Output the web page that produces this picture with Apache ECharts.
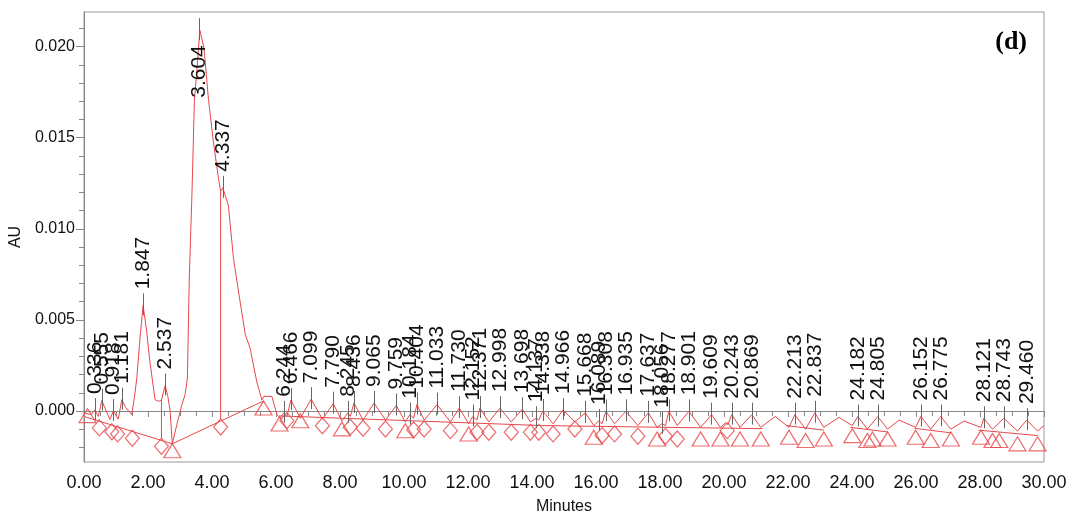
<!DOCTYPE html>
<html><head><meta charset="utf-8">
<script src="https://cdn.jsdelivr.net/npm/echarts@6/dist/echarts.min.js"></script>
<style>html,body{margin:0;padding:0;background:#fff}#c{width:1072px;height:520px}</style>
</head><body><div id="c"></div>
<script>
// ---- chromatogram trace (minutes, AU) ----
const traceT = [0.0,0.22,0.336,0.45,0.555,0.81,0.918,1.07,1.181,1.30,1.49,1.58,1.65,1.75,1.847,1.95,2.06,2.22,2.33,2.42,2.537,2.62,2.69,2.76,2.90,3.06,3.16,3.23,3.29,3.37,3.45,3.54,3.62,3.75,3.89,4.04,4.20,4.27,4.337,4.51,4.67,4.78,5.04,5.19,5.40,5.56,5.62,5.87,6.03,
6.13,6.244,6.34,6.466,6.76,7.099,7.45,7.79,8.06,8.245,8.32,8.436,8.72,9.065,9.42,9.759,10.04,10.184,10.30,10.404,10.63,11.033,11.45,11.73,12.02,12.152,12.28,12.371,12.65,12.998,13.35,13.698,13.95,14.137,14.21,14.338,14.66,14.966,15.34,15.668,15.93,16.089,16.19,16.308,16.58,16.935,17.31,17.637,17.91,18.056,18.17,18.277,18.54,18.901,19.27,19.609,19.89,20.05,20.12,20.243,20.5,20.869,21.15,21.6,22.03,22.213,22.55,22.837,23.12,23.59,24.01,24.182,24.48,24.805,25.11,25.47,25.99,26.152,26.46,26.775,27.09,27.5,28.03,28.121,28.39,28.743,29.17,29.46,29.8,30.0];
const traceAU = [-0.0001,-0.0002,0.00005,-0.0003,0.00057,-0.00047,0.0,-0.00045,0.00062,0.0002,-0.0002,0.0008,0.0018,0.0040,0.0058,0.0045,0.0027,0.00062,0.00053,0.0006,0.0014,0.0008,0.0,-0.0018,-0.00075,0.00035,0.0009,0.0018,0.0073,0.0117,0.0170,0.0190,0.0209,0.0199,0.0171,0.0148,0.0128,0.01205,0.01225,0.0113,0.0084,0.0071,0.0042,0.00345,0.0016,0.0006,0.0008,0.0008,-0.0002,
-0.0004,-0.0001,-0.0003,0.0006,-0.0004,0.00065,-0.00045,0.0004,-0.00055,-0.0001,-0.0003,0.00044,-0.0005,0.00044,-0.0005,0.0003,-0.0006,-0.0002,-0.0004,0.00035,-0.0005,0.00035,-0.0006,0.00016,-0.0007,-0.0003,-0.0005,0.00016,-0.0006,0.00016,-0.0006,0.0001,-0.0006,-0.0004,-0.0005,0.0,-0.0007,0.00005,-0.0006,-0.0001,-0.0008,-0.00055,-0.0007,-0.00002,-0.0007,-0.00002,-0.0008,-0.0001,-0.0009,-0.0007,-0.0008,-0.00002,-0.0008,-0.00002,-0.0009,-0.0002,-0.0009,-0.00065,-0.00075,-0.0002,-0.0009,-0.0002,-0.0009,-0.0003,-0.0009,-0.0002,-0.001,-0.0001,-0.0009,-0.00035,-0.0008,-0.0003,-0.001,-0.0003,-0.001,-0.0005,-0.0009,-0.0003,-0.001,-0.0003,-0.001,-0.00055,-0.0009,-0.0004,-0.001,-0.0004,-0.0011,-0.0005,-0.0011,-0.0008];

// ---- peak labels (retention time, apex AU) ----
const peakLabels = ['0.336','0.555','0.918','1.181','1.847','2.537','3.604','4.337','6.244','6.466','7.099','7.790','8.245','8.436','9.065','9.759','10.184','10.404','11.033','11.730','12.152','12.371','12.998','13.698','14.137','14.338','14.966','15.668','16.089','16.308','16.935','17.637','18.056','18.277','18.901','19.609','20.243','20.869','22.213','22.837','24.182','24.805','26.152','26.775','28.121','28.743','29.460'];
const peakApexAU = [0.00005,0.00057,0.0,0.00062,0.0058,0.0014,0.0209,0.01225,-0.0001,0.0006,0.00065,0.0004,-0.0001,0.00044,0.00044,0.0003,-0.0002,0.00035,0.00035,0.00016,-0.0003,0.00016,0.00016,0.0001,-0.0004,0.0,0.00005,-0.0001,-0.00055,-0.00002,-0.00002,-0.0001,-0.0007,-0.00002,-0.00002,-0.0002,-0.0002,-0.0002,-0.0002,-0.0001,-0.0003,-0.0003,-0.0003,-0.0003,-0.0004,-0.0004,-0.0005];

// ---- integration marks ----
const dropMarkT  = [0.48,0.87,1.05,1.51,2.42,4.27,6.34,7.45,8.32,8.72,9.42,10.30,10.63,11.45,12.28,12.65,13.35,13.95,14.21,14.66,15.34,16.19,16.58,17.31,18.17,18.54,20.10];
const dropMarkAU = [-0.00049,-0.0007,-0.00082,-0.00106,-0.0015,-0.00044,-0.00009,-0.00037,-0.00045,-0.00051,-0.00055,-0.00059,-0.00055,-0.00064,-0.00073,-0.00073,-0.00073,-0.00073,-0.00073,-0.00082,-0.00055,-0.00091,-0.00082,-0.00095,-0.00095,-0.0011,-0.00064];
const endMarkT  = [0.11,2.76,5.61,6.11,6.76,8.06,10.04,12.02,15.93,17.91,19.27,19.89,20.50,21.15,22.03,22.55,23.12,24.01,24.48,24.64,25.11,25.99,26.46,27.09,28.03,28.39,28.60,29.17,29.80];
const endMarkAU = [0.00013,-0.0018,0.00055,-0.00033,-0.00015,-0.0006,-0.0007,-0.00088,-0.00106,-0.00115,-0.00115,-0.00115,-0.00115,-0.00115,-0.00106,-0.00124,-0.00115,-0.00097,-0.00124,-0.00115,-0.00115,-0.00106,-0.00124,-0.00115,-0.00106,-0.00124,-0.00124,-0.00142,-0.00142];

// baselines [t1, au1, t2, au2]
const baselines = [[0.0,-0.0003,2.76,-0.0018],[2.76,-0.0018,5.61,0.00055],[6.1,-0.00027,14.3,-0.0008],[14.3,-0.0008,21.2,-0.00097],
  [21.95,-0.0008,23.12,-0.00105],[23.95,-0.0009,25.11,-0.00115],[25.95,-0.00095,27.09,-0.0012],[27.95,-0.00105,29.8,-0.00135]];
// drop lines [t, auTop, t, auBottom]
const dropLines = [[2.42,0.0006,2.42,-0.00155],[4.27,0.01205,4.27,-0.00045]];

const yMajorTicks = [0, 0.005, 0.010, 0.015, 0.020];
const yMinorTicks = [-0.002,-0.001,0.001,0.002,0.003,0.004,0.006,0.007,0.008,0.009,0.011,0.012,0.013,0.014,0.016,0.017,0.018,0.019,0.021];

// ---- rendering ----
const RED = '#e8474a';
const ctx = document.createElement('canvas').getContext('2d');
function textLen(s, font){ ctx.font = font; return ctx.measureText(s).width; }
const LABEL_FONT = '21px "Liberation Sans", Arial, sans-serif';

const chart = echarts.init(document.getElementById('c'), null, {renderer:'canvas'});
const segRender = function(params, api){
  const a = api.coord([api.value(0), api.value(1)]);
  const b = api.coord([api.value(2), api.value(3)]);
  return {type:'line', shape:{x1:a[0], y1:a[1], x2:b[0], y2:b[1]}, style:{stroke:RED, lineWidth:1}};
};
chart.setOption({
  animation:false,
  backgroundColor:'#fff',
  title:{text:'(d)', right:40, top:24, textStyle:{fontFamily:'Liberation Serif', fontWeight:'bold', fontSize:26, color:'#000'}},
  grid:{left:84, right:28, top:12, bottom:56, show:true, borderColor:'#999', borderWidth:1, backgroundColor:'transparent'},
  xAxis:{type:'value', min:0, max:30, interval:2,
    name:'Minutes', nameLocation:'middle', nameGap:37, nameTextStyle:{fontFamily:'Liberation Sans', fontSize:16, color:'#111'},
    axisLine:{show:true, lineStyle:{color:'#888'}},
    axisTick:{show:true, length:6, lineStyle:{color:'#888'}},
    minorTick:{show:true, splitNumber:4, length:5, lineStyle:{color:'#888'}},
    axisLabel:{formatter:v=>v.toFixed(2), margin:12, fontFamily:'Liberation Sans', fontSize:18, color:'#111'},
    splitLine:{show:false}, minorSplitLine:{show:false}},
  yAxis:[{type:'value', min:-0.0028, max:0.0219, position:'left',
    name:'AU', nameLocation:'middle', nameGap:54, nameTextStyle:{fontFamily:'Liberation Sans', fontSize:16, color:'#111'},
    axisLine:{show:true, lineStyle:{color:'#888'}},
    axisTick:{show:true, length:8, customValues:yMajorTicks, lineStyle:{color:'#888'}},
    axisLabel:{customValues:yMajorTicks, formatter:v=>v.toFixed(3), margin:9, fontFamily:'Liberation Sans', fontSize:16, color:'#111'},
    splitLine:{show:false}},
   {type:'value', min:-0.0028, max:0.0219, position:'left',
    axisLine:{show:false},
    axisTick:{show:true, length:5, customValues:yMinorTicks, lineStyle:{color:'#888'}},
    axisLabel:{show:false}, splitLine:{show:false}}],
  series:[
    {type:'custom', name:'baselines', renderItem:segRender, data:baselines.concat(dropLines), clip:true, z:2},
    {type:'line', name:'trace', data:traceT.map((t,i)=>[t, traceAU[i]]), symbol:'none', lineStyle:{color:RED, width:1}, z:3},
    {type:'scatter', name:'drop', data:dropMarkT.map((t,i)=>[t, dropMarkAU[i]]), symbol:'diamond', symbolSize:[14,16], symbolOffset:[0,'50%'],
      itemStyle:{color:'rgba(255,255,255,0)', borderColor:RED, borderWidth:1.2}, z:4},
    {type:'scatter', name:'end', data:endMarkT.map((t,i)=>[t, endMarkAU[i]]), symbol:'triangle', symbolSize:[17,14], symbolOffset:[0,'50%'],
      itemStyle:{color:'rgba(255,255,255,0)', borderColor:RED, borderWidth:1.2}, z:4},
    {type:'custom', name:'labels', data:peakLabels.map((s,i)=>[parseFloat(s), peakApexAU[i]]), clip:false, z:5,
      renderItem:function(params, api){
        const i = params.dataIndex;
        const p = api.coord([api.value(0), api.value(1)]);
        const top = params.coordSys.y;
        const x = Math.round(p[0]) + 0.5;
        const L = textLen(peakLabels[i], LABEL_FONT);
        let ty, align;
        if (p[1] - 16 - L < top) { ty = p[1] + 15; align = 'right'; } else { ty = p[1] - 16; align = 'left'; }
        return {type:'group', children:[
          {type:'line', shape:{x1:x, y1:p[1]-12, x2:x, y2:p[1]+10}, style:{stroke:'#666', lineWidth:1}},
          {type:'text', x:p[0], y:ty, rotation:Math.PI/2, style:{text:peakLabels[i], font:LABEL_FONT, fill:'#111', align:align, verticalAlign:'middle'}}
        ]};
      }}
  ]
});
</script></body></html>
